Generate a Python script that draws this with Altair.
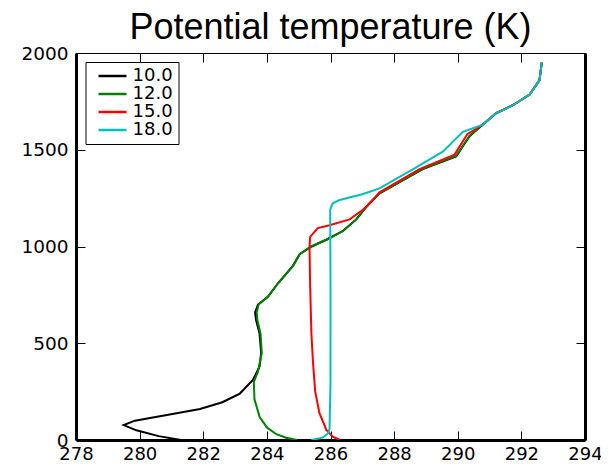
import altair as alt
import pandas as pd

series_names = ["10.0", "12.0", "15.0", "18.0"]
series_colors = ["#000000", "#008000", "#ff0000", "#00bfbf"]

h_10 = [0, 20, 50, 77, 100, 130, 160, 195, 240, 310, 380, 450, 550, 620, 660, 700, 740, 810, 900, 960, 1000, 1035, 1080, 1140, 1200, 1240, 1275, 1400, 1465, 1570, 1630, 1690, 1730, 1785, 1860, 1950]
th_10 = [281.3, 280.6, 279.9, 279.5, 279.85, 280.9, 281.9, 282.6, 283.15, 283.56, 283.77, 283.82, 283.77, 283.66, 283.63, 283.72, 284.03, 284.35, 284.82, 285.03, 285.4, 285.87, 286.39, 286.81, 287.1, 287.33, 287.54, 288.9, 289.95, 290.37, 290.79, 291.21, 291.73, 292.26, 292.57, 292.64]

h_12 = [0, 12, 30, 65, 120, 210, 300, 353, 450, 550, 620, 660, 700, 740, 810, 900, 960, 1000, 1035, 1080, 1140, 1200, 1240, 1275, 1400, 1468, 1572, 1630, 1690, 1730, 1785, 1860, 1950]
th_12 = [284.95, 284.6, 284.3, 284.0, 283.77, 283.61, 283.59, 283.72, 283.84, 283.8, 283.7, 283.68, 283.74, 284.03, 284.35, 284.82, 285.03, 285.4, 285.87, 286.39, 286.81, 287.1, 287.33, 287.54, 288.88, 289.95, 290.37, 290.79, 291.21, 291.73, 292.26, 292.57, 292.64]

h_15 = [0, 17, 52, 140, 250, 400, 550, 800, 1000, 1050, 1095, 1110, 1140, 1190, 1240, 1280, 1400, 1475, 1580, 1630, 1690, 1730, 1785, 1860, 1950]
th_15 = [286.3, 286.07, 285.87, 285.65, 285.52, 285.45, 285.4, 285.36, 285.34, 285.36, 285.6, 285.97, 286.6, 287.02, 287.33, 287.54, 288.8, 289.9, 290.3, 290.79, 291.21, 291.73, 292.26, 292.57, 292.64]

h_18 = [0, 12, 35, 60, 300, 800, 1190, 1223, 1240, 1270, 1300, 1400, 1490, 1593, 1630, 1690, 1730, 1785, 1860, 1950]
th_18 = [285.4, 285.75, 285.93, 285.97, 286.0, 286.0, 285.99, 286.07, 286.28, 287.0, 287.54, 288.6, 289.53, 290.16, 290.79, 291.21, 291.73, 292.26, 292.57, 292.64]

x_ticks = [278, 280, 282, 284, 286, 288, 290, 292, 294]
y_ticks = [0, 500, 1000, 1500, 2000]

rows = []
for name, hs, ths in zip(series_names, [h_10, h_12, h_15, h_18], [th_10, th_12, th_15, th_18]):
    for i, (h, t) in enumerate(zip(hs, ths)):
        rows.append({"series": name, "h": h, "theta": t, "i": i})
df = pd.DataFrame(rows)

W, H = 509, 387
FONT = "DejaVu Sans"

xs = alt.Scale(domain=[278, 294], nice=False, zero=False)
ys = alt.Scale(domain=[0, 2000], nice=False, zero=False)

base = alt.Chart(df)

lines = base.mark_line(strokeWidth=2, clip=True).encode(
    x=alt.X("theta:Q", scale=xs, axis=alt.Axis(
        values=x_ticks, title=None, ticks=False, grid=False, domainWidth=3,
        domainColor="black", labelFont=FONT, labelFontSize=18, labelColor="black",
        labelPadding=5, labelFlush=False, labelOverlap=False, format="d")),
    y=alt.Y("h:Q", scale=ys, axis=alt.Axis(
        values=y_ticks, title=None, ticks=False, grid=False, domainWidth=3,
        domainColor="black", labelFont=FONT, labelFontSize=18.5, labelColor="black",
        labelPadding=8, labelFlush=False, labelOverlap=False, format="d")),
    color=alt.Color("series:N", scale=alt.Scale(domain=series_names, range=series_colors),
                    legend=alt.Legend(title=None, orient="none", legendX=9.5, legendY=9,
                                      direction="vertical", strokeColor="black", fillColor="white",
                                      padding=5, cornerRadius=0, symbolType="M-2,0H2",
                                      symbolSize=196, symbolStrokeWidth=2.5, symbolOffset=13,
                                      labelOffset=11, rowPadding=0, labelFont=FONT,
                                      labelFontSize=18, labelColor="black")),
    order="i:Q",
)

tick_kw = dict(title=None, grid=False, labels=False, ticks=True, tickSize=9,
               tickColor="black", tickWidth=1)

ticks_a = base.mark_point(opacity=0).encode(
    x=alt.X("theta:Q", scale=xs, axis=alt.Axis(orient="top", offset=-H, domain=False, values=x_ticks, **tick_kw)),
    y=alt.Y("h:Q", scale=ys, axis=alt.Axis(orient="right", offset=-W, domain=False, values=y_ticks, **tick_kw)),
)
ticks_b = base.mark_point(opacity=0).encode(
    x=alt.X("theta:Q", scale=xs, axis=alt.Axis(orient="bottom", offset=-H, domain=True, domainWidth=1,
                                               domainColor="black", values=x_ticks, **tick_kw)),
    y=alt.Y("h:Q", scale=ys, axis=alt.Axis(orient="left", offset=-W, domain=True, domainWidth=3,
                                           domainColor="black", values=y_ticks, **tick_kw)),
)

chart = alt.layer(ticks_a, ticks_b, lines).resolve_axis(x="independent", y="independent").properties(
    width=W, height=H,
    title=alt.TitleParams("Potential temperature (K)", font="Liberation Sans", fontSize=36,
                          fontWeight="normal", color="black", anchor="middle", frame="group",
                          offset=-3),
    autosize=alt.AutoSizeParams(type="none"),
    padding={"left": 68, "top": 45, "right": 16, "bottom": 22},
).configure_view(stroke=None).configure(background="white")

chart.save("out.html", embed_options={"renderer": "svg", "actions": False})
